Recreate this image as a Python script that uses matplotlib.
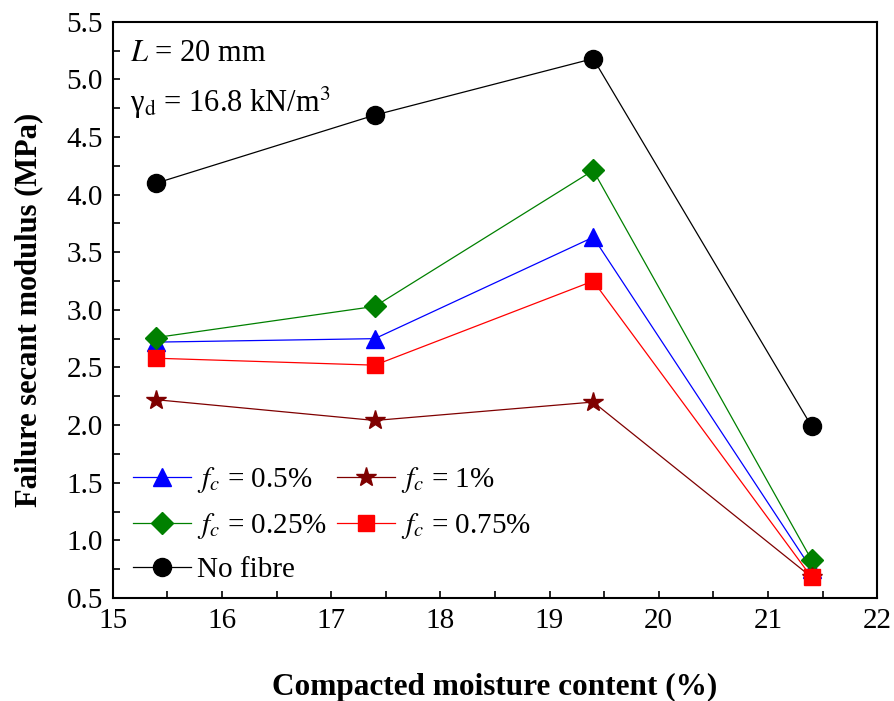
import matplotlib
matplotlib.use('Agg')
import matplotlib.pyplot as plt
from matplotlib.ticker import MultipleLocator, FormatStrFormatter

plt.rcParams.update({
    'font.family': 'Liberation Serif',
    'mathtext.fontset': 'stix',
    'xtick.labelsize': 21,
    'ytick.labelsize': 21,
})

# moisture content (%)
moisture = [15.4, 17.4, 19.4, 21.4]
no_fibre = [4.10, 4.69, 5.18, 1.99]
fc_025 = [2.76, 3.03, 4.21, 0.83]
fc_05 = [2.72, 2.75, 3.63, 0.75]
fc_075 = [2.58, 2.52, 3.25, 0.68]
fc_1 = [2.22, 2.04, 2.20, 0.68]

fig = plt.figure(figsize=(8.95, 7.01), dpi=100)
ax = fig.add_axes([0.126, 0.147, 0.854, 0.822])

ms = 13
ax.plot(moisture, fc_05, '-^', color='blue', lw=0.9, ms=ms, label='$f_c$ = 0.5%')
ax.plot(moisture, fc_025, '-D', color='green', lw=0.9, ms=ms - 2, label='$f_c$ = 0.25%')
ax.plot(moisture, no_fibre, '-o', color='black', lw=0.9, ms=ms, label='No fibre')
ax.plot(moisture, fc_1, '-*', color='#7f0000', lw=0.9, ms=ms + 2, label='$f_c$ = 1%')
ax.plot(moisture, fc_075, '-s', color='red', lw=0.9, ms=ms - 2, label='$f_c$ = 0.75%')

ax.set_xlim(15, 22)
ax.set_ylim(0.5, 5.5)
ax.xaxis.set_major_locator(MultipleLocator(1))
ax.xaxis.set_minor_locator(MultipleLocator(0.5))
ax.yaxis.set_major_locator(MultipleLocator(0.5))
ax.yaxis.set_minor_locator(MultipleLocator(0.25))
ax.yaxis.set_major_formatter(FormatStrFormatter('%.1f'))
ax.tick_params(which='both', direction='in', length=5, width=1.2, top=False, right=False, pad=7)
for s in ax.spines.values():
    s.set_linewidth(1.5)

ax.set_xlabel('Compacted moisture content (%)', fontsize=22.5, fontweight='bold', labelpad=28)
ax.set_ylabel('Failure secant modulus (MPa)', fontsize=22, fontweight='bold', labelpad=17)

ax.text(0.022, 0.97, '$L$ = 20 mm', transform=ax.transAxes, fontsize=22, va='top')
ax.text(0.022, 0.89, 'γ$_\\mathrm{d}$ = 16.8 kN/m$^3$', transform=ax.transAxes, fontsize=22, va='top')

ax.legend(loc='lower left', ncol=2, frameon=False, fontsize=21, handlelength=2.0,
          handletextpad=0.2, columnspacing=0.35, labelspacing=0.55,
          borderaxespad=0.1, bbox_to_anchor=(0.007, 0.0))

plt.savefig('out.png', dpi=100)
